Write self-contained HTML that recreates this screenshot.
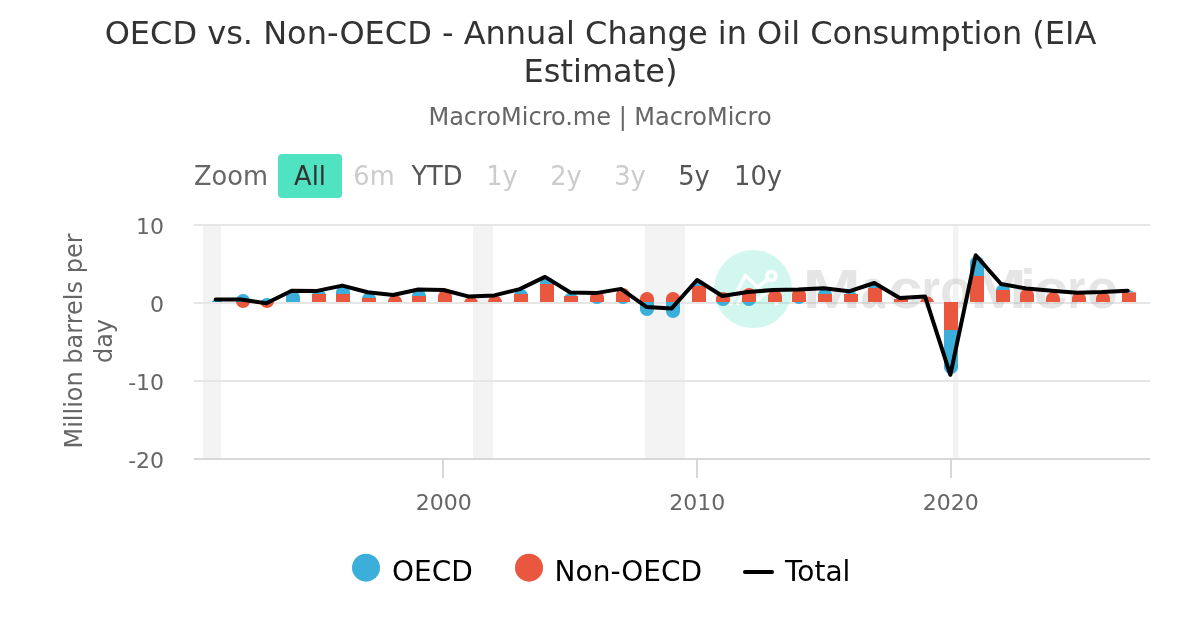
<!DOCTYPE html>
<html lang="en">
<head>
<meta charset="utf-8">
<title>OECD vs. Non-OECD - Annual Change in Oil Consumption (EIA Estimate)</title>
<style>
html,body{margin:0;padding:0;background:#fff;}
body{width:1200px;height:630px;overflow:hidden;}
</style>
</head>
<body>
<svg width="1200" height="630" viewBox="0 0 1200 630" style="display:block;will-change:transform;font-family:'DejaVu Sans', Verdana, 'Liberation Sans', sans-serif">
<rect width="1200" height="630" fill="#fff"/>
<rect x="203" y="225" width="18" height="234" fill="#f3f3f3"/>
<rect x="473" y="225" width="20" height="234" fill="#f3f3f3"/>
<rect x="645" y="225" width="40" height="234" fill="#f3f3f3"/>
<rect x="953" y="225" width="5.5" height="234" fill="#f3f3f3"/>
<rect x="194" y="224" width="956" height="2" fill="#e6e6e6"/>
<rect x="194" y="302" width="956" height="2" fill="#e6e6e6"/>
<rect x="194" y="380" width="956" height="2" fill="#e6e6e6"/>
<rect x="194" y="458" width="956" height="2" fill="#d8d8d8"/>
<rect x="442" y="460" width="2" height="18" fill="#d8d8d8"/>
<rect x="696" y="460" width="2" height="18" fill="#d8d8d8"/>
<rect x="950" y="460" width="2" height="18" fill="#d8d8d8"/>
<g opacity="0.25">
<circle cx="753.05" cy="289.05" r="39.05" fill="#50e3c2"/>
<g fill="none" stroke="#fff" stroke-width="3.4" stroke-linejoin="round" stroke-linecap="butt">
<path d="M730.2 305L745.4 275.4L757.5 287.3L768.2 278.8"/>
<path d="M737 305L745.4 289.6L757.5 299.4L770 290.4L777.4 305"/>
<circle cx="771.4" cy="276" r="4.4" stroke-width="3.6"/>
</g>
<g font-family="'Liberation Sans', Arial, sans-serif" font-weight="700" font-size="56" fill="#9b9b9b">
<text transform="translate(802.6 308.2) scale(1.252 1)">M</text>
<text transform="translate(860.63 308.2) scale(0.781 1)">a</text>
<text transform="translate(888.63 308.2) scale(1.083 1)">c</text>
<text transform="translate(921.47 308.2) scale(0.846 1)">r</text>
<text transform="translate(939.95 308.2) scale(0.938 1)">o</text>
<text transform="translate(970.15 308.2) scale(1.213 1)">M</text>
<text transform="translate(1020.32 308.2) scale(0.991 1)">i</text>
<text transform="translate(1033.5 308.2) scale(1.098 1)">c</text>
<text transform="translate(1067.26 308.2) scale(0.823 1)">r</text>
<text transform="translate(1087.02 308.2) scale(0.905 1)">o</text>
</g>
</g>
<g>
<path fill="#3bafda" d="M211.48 302L211.63 301.81L211.8 301.61L211.98 301.42L212.18 301.23L212.39 301.04L212.62 300.84L212.87 300.65L213.15 300.46L213.45 300.26L213.81 300.07L214.21 299.88L214.71 299.69L215.37 299.49L217 299.3L217 299.3L218.63 299.49L219.29 299.69L219.79 299.88L220.19 300.07L220.55 300.26L220.85 300.46L221.13 300.65L221.38 300.84L221.61 301.04L221.82 301.23L222.02 301.42L222.2 301.61L222.37 301.81L222.52 302Z"/>
<path fill="#3bafda" d="M236 302L236 301.43L236 301L236 300.86L236.02 300.42L236.04 300.29L236.1 299.83L236.12 299.71L236.22 299.25L236.25 299.14L236.4 298.67L236.43 298.57L236.64 298.08L236.68 298L236.94 297.5L236.98 297.43L237.31 296.92L237.36 296.86L237.78 296.33L237.83 296.29L238.37 295.75L238.41 295.71L239.13 295.17L239.17 295.14L240.2 294.58L240.23 294.57L243 294L243 294L245.77 294.57L245.8 294.58L246.83 295.14L246.87 295.17L247.59 295.71L247.63 295.75L248.17 296.29L248.22 296.33L248.64 296.86L248.69 296.92L249.02 297.43L249.06 297.5L249.32 298L249.36 298.08L249.57 298.57L249.6 298.67L249.75 299.14L249.78 299.25L249.88 299.71L249.9 299.83L249.96 300.29L249.98 300.42L250 300.86L250 301L250 301.43L250 302Z"/>
<path fill="#e9573f" d="M236.07 302L236.15 302.43L236.25 302.86L236.38 303.29L236.55 303.71L236.75 304.14L236.98 304.57L237.26 305L237.58 305.43L237.96 305.86L238.41 306.29L238.96 306.71L239.64 307.14L240.59 307.57L243 308L243 308L245.41 307.57L246.36 307.14L247.04 306.71L247.59 306.29L248.04 305.86L248.42 305.43L248.74 305L249.02 304.57L249.25 304.14L249.45 303.71L249.62 303.29L249.75 302.86L249.85 302.43L249.93 302Z"/>
<path fill="#3bafda" d="M260.68 302L260.82 301.71L260.98 301.43L261.16 301.14L261.36 300.86L261.58 300.57L261.83 300.29L262.1 300L262.41 299.71L262.76 299.43L263.17 299.14L263.64 298.86L264.23 298.57L265.02 298.29L267 298L267 298L268.98 298.29L269.77 298.57L270.36 298.86L270.83 299.14L271.24 299.43L271.59 299.71L271.9 300L272.17 300.29L272.42 300.57L272.64 300.86L272.84 301.14L273.02 301.43L273.18 301.71L273.32 302Z"/>
<path fill="#e9573f" d="M260.07 302L260.15 302.43L260.25 302.86L260.38 303.29L260.55 303.71L260.75 304.14L260.98 304.57L261.26 305L261.58 305.43L261.96 305.86L262.41 306.29L262.96 306.71L263.64 307.14L264.59 307.57L267 308L267 308L269.41 307.57L270.36 307.14L271.04 306.71L271.59 306.29L272.04 305.86L272.42 305.43L272.74 305L273.02 304.57L273.25 304.14L273.45 303.71L273.62 303.29L273.75 302.86L273.85 302.43L273.93 302Z"/>
<path fill="#3bafda" d="M286 302L286 301.2L286 300.39L286 299.59L286 298.79L286 297.98L286 297.75L286.02 297.18L286.02 297.17L286.1 296.58L286.14 296.38L286.22 296L286.35 295.57L286.4 295.42L286.64 294.83L286.67 294.77L286.94 294.25L287.11 293.96L287.31 293.67L287.71 293.16L287.78 293.08L288.37 292.5L288.54 292.36L289.13 291.92L289.74 291.55L290.2 291.33L293 290.75L293 290.75L295.8 291.33L296.26 291.55L296.87 291.92L297.46 292.36L297.63 292.5L298.22 293.08L298.29 293.16L298.69 293.67L298.89 293.96L299.06 294.25L299.33 294.77L299.36 294.83L299.6 295.42L299.65 295.57L299.78 296L299.86 296.38L299.9 296.58L299.98 297.17L299.98 297.18L300 297.75L300 297.98L300 298.79L300 299.59L300 300.39L300 301.2L300 302Z"/>
<rect fill="#e9573f" x="312" y="294" width="14" height="8"/>
<path fill="#3bafda" d="M312.35 294L312.48 293.66L312.62 293.31L312.79 292.97L312.98 292.63L313.2 292.29L313.44 291.94L313.72 291.6L314.04 291.26L314.41 290.91L314.84 290.57L315.35 290.23L315.98 289.89L316.84 289.54L319 289.2L319 289.2L321.16 289.54L322.02 289.89L322.65 290.23L323.16 290.57L323.59 290.91L323.96 291.26L324.28 291.6L324.56 291.94L324.8 292.29L325.02 292.63L325.21 292.97L325.38 293.31L325.52 293.66L325.65 294Z"/>
<rect fill="#e9573f" x="336" y="294" width="14" height="8"/>
<path fill="#3bafda" d="M336 294L336 293.4L336 292.8L336 292.6L336.01 292.2L336.02 292.02L336.07 291.6L336.1 291.43L336.19 291L336.22 290.85L336.35 290.4L336.4 290.27L336.58 289.8L336.64 289.68L336.88 289.2L336.94 289.1L337.26 288.6L337.31 288.52L337.72 288L337.78 287.93L338.31 287.4L338.37 287.35L339.08 286.8L339.13 286.77L340.16 286.2L340.2 286.18L343 285.6L343 285.6L345.8 286.18L345.84 286.2L346.87 286.77L346.92 286.8L347.63 287.35L347.69 287.4L348.22 287.93L348.28 288L348.69 288.52L348.74 288.6L349.06 289.1L349.12 289.2L349.36 289.68L349.42 289.8L349.6 290.27L349.65 290.4L349.78 290.85L349.81 291L349.9 291.43L349.93 291.6L349.98 292.02L349.99 292.2L350 292.6L350 292.8L350 293.4L350 294Z"/>
<rect fill="#e9573f" x="362" y="298" width="14" height="4"/>
<path fill="#3bafda" d="M362.12 298L362.21 297.59L362.33 297.19L362.47 296.78L362.64 296.37L362.85 295.96L363.08 295.56L363.36 295.15L363.69 294.74L364.06 294.34L364.51 293.93L365.05 293.52L365.72 293.11L366.65 292.71L369 292.3L369 292.3L371.35 292.71L372.28 293.11L372.95 293.52L373.49 293.93L373.94 294.34L374.31 294.74L374.64 295.15L374.92 295.56L375.15 295.96L375.36 296.37L375.53 296.78L375.67 297.19L375.79 297.59L375.88 298Z"/>
<path fill="#e9573f" d="M388 302L388.02 301.5L388.07 301L388.16 300.5L388.29 300L388.46 299.5L388.68 299L388.94 298.5L389.26 298L389.64 297.5L390.1 297L390.67 296.5L391.39 296L392.4 295.5L395 295L395 295L397.6 295.5L398.61 296L399.33 296.5L399.9 297L400.36 297.5L400.74 298L401.06 298.5L401.32 299L401.54 299.5L401.71 300L401.84 300.5L401.93 301L401.98 301.5L402 302Z"/>
<rect fill="#e9573f" x="412" y="296" width="14" height="6"/>
<path fill="#3bafda" d="M412.02 296L412.07 295.54L412.15 295.07L412.26 294.61L412.41 294.14L412.59 293.68L412.82 293.21L413.09 292.75L413.41 292.29L413.79 291.82L414.25 291.36L414.81 290.89L415.52 290.43L416.49 289.96L419 289.5L419 289.5L421.51 289.96L422.48 290.43L423.19 290.89L423.75 291.36L424.21 291.82L424.59 292.29L424.91 292.75L425.18 293.21L425.41 293.68L425.59 294.14L425.74 294.61L425.85 295.07L425.93 295.54L425.98 296Z"/>
<path fill="#e9573f" d="M438 302L438 301.14L438 300.29L438 299.43L438 298.57L438 297.71L438 297L438 296.86L438.02 296.42L438.07 296L438.1 295.83L438.22 295.25L438.25 295.14L438.4 294.67L438.55 294.29L438.64 294.08L438.94 293.5L438.98 293.43L439.31 292.92L439.58 292.57L439.78 292.33L440.37 291.75L440.41 291.71L441.13 291.17L441.64 290.86L442.2 290.58L445 290L445 290L447.8 290.58L448.36 290.86L448.87 291.17L449.59 291.71L449.63 291.75L450.22 292.33L450.42 292.57L450.69 292.92L451.02 293.43L451.06 293.5L451.36 294.08L451.45 294.29L451.6 294.67L451.75 295.14L451.78 295.25L451.9 295.83L451.93 296L451.98 296.42L452 296.86L452 297L452 297.71L452 298.57L452 299.43L452 300.29L452 301.14L452 302Z"/>
<path fill="#e9573f" d="M464.19 302L464.29 301.61L464.41 301.23L464.57 300.84L464.75 300.46L464.95 300.07L465.2 299.69L465.48 299.3L465.8 298.91L466.18 298.53L466.62 298.14L467.15 297.76L467.81 297.37L468.71 296.99L471 296.6L471 296.6L473.29 296.99L474.19 297.37L474.85 297.76L475.38 298.14L475.82 298.53L476.2 298.91L476.52 299.3L476.8 299.69L477.05 300.07L477.25 300.46L477.43 300.84L477.59 301.23L477.71 301.61L477.81 302Z"/>
<path fill="#e9573f" d="M488.01 302L488.05 301.53L488.13 301.06L488.24 300.59L488.38 300.11L488.57 299.64L488.79 299.17L489.06 298.7L489.38 298.23L489.76 297.76L490.22 297.29L490.78 296.81L491.49 296.34L492.47 295.87L495 295.4L495 295.4L497.53 295.87L498.51 296.34L499.22 296.81L499.78 297.29L500.24 297.76L500.62 298.23L500.94 298.7L501.21 299.17L501.43 299.64L501.62 300.11L501.76 300.59L501.87 301.06L501.95 301.53L501.99 302Z"/>
<rect fill="#e9573f" x="514" y="294" width="14" height="8"/>
<path fill="#3bafda" d="M514.32 294L514.44 293.65L514.58 293.3L514.75 292.95L514.94 292.6L515.15 292.25L515.4 291.9L515.68 291.55L516 291.2L516.37 290.85L516.8 290.5L517.31 290.15L517.95 289.8L518.81 289.45L521 289.1L521 289.1L523.19 289.45L524.05 289.8L524.69 290.15L525.2 290.5L525.63 290.85L526 291.2L526.32 291.55L526.6 291.9L526.85 292.25L527.06 292.6L527.25 292.95L527.42 293.3L527.56 293.65L527.68 294Z"/>
<rect fill="#e9573f" x="540" y="284" width="14" height="18"/>
<path fill="#3bafda" d="M540 284L540 283.9L540.01 283.49L540.02 283.32L540.06 282.99L540.1 282.73L540.15 282.48L540.22 282.15L540.27 281.97L540.4 281.57L540.44 281.46L540.64 280.98L540.65 280.96L540.91 280.45L540.94 280.4L541.23 279.94L541.31 279.82L541.61 279.44L541.78 279.23L542.07 278.93L542.37 278.65L542.64 278.42L543.13 278.07L543.37 277.91L544.2 277.48L544.38 277.41L547 276.9L547 276.9L549.62 277.41L549.8 277.48L550.63 277.91L550.87 278.07L551.36 278.42L551.63 278.65L551.93 278.93L552.22 279.23L552.39 279.44L552.69 279.82L552.77 279.94L553.06 280.4L553.09 280.45L553.35 280.96L553.36 280.98L553.56 281.46L553.6 281.57L553.73 281.97L553.78 282.15L553.85 282.48L553.9 282.73L553.94 282.99L553.98 283.32L553.99 283.49L554 283.9L554 284Z"/>
<rect fill="#e9573f" x="564" y="296" width="14" height="6"/>
<path fill="#3bafda" d="M564.94 296L565.09 295.75L565.26 295.5L565.44 295.25L565.64 295L565.86 294.75L566.1 294.5L566.37 294.25L566.67 294L567.01 293.75L567.39 293.5L567.85 293.25L568.4 293L569.15 292.75L571 292.5L571 292.5L572.85 292.75L573.6 293L574.15 293.25L574.61 293.5L574.99 293.75L575.33 294L575.63 294.25L575.9 294.5L576.14 294.75L576.36 295L576.56 295.25L576.74 295.5L576.91 295.75L577.06 296Z"/>
<path fill="#e9573f" d="M590 302L590 301.21L590 300.43L590 299.64L590 298.86L590 298.07L590 298L590.02 297.42L590.04 297.29L590.1 296.83L590.16 296.5L590.22 296.25L590.38 295.71L590.4 295.67L590.64 295.08L590.71 294.93L590.94 294.5L591.16 294.14L591.31 293.92L591.76 293.36L591.78 293.33L592.37 292.75L592.58 292.57L593.13 292.17L593.78 291.79L594.2 291.58L597 291L597 291L599.8 291.58L600.22 291.79L600.87 292.17L601.42 292.57L601.63 292.75L602.22 293.33L602.24 293.36L602.69 293.92L602.84 294.14L603.06 294.5L603.29 294.93L603.36 295.08L603.6 295.67L603.62 295.71L603.78 296.25L603.84 296.5L603.9 296.83L603.96 297.29L603.98 297.42L604 298L604 298.07L604 298.86L604 299.64L604 300.43L604 301.21L604 302Z"/>
<path fill="#3bafda" d="M592.1 302L592.25 302.14L592.41 302.29L592.58 302.43L592.76 302.57L592.96 302.71L593.17 302.86L593.39 303L593.64 303.14L593.92 303.29L594.23 303.43L594.59 303.57L595.02 303.71L595.59 303.86L597 304L597 304L598.41 303.86L598.98 303.71L599.41 303.57L599.77 303.43L600.08 303.29L600.36 303.14L600.61 303L600.83 302.86L601.04 302.71L601.24 302.57L601.42 302.43L601.59 302.29L601.75 302.14L601.9 302Z"/>
<path fill="#e9573f" d="M616 302L616 301L616 300L616 299L616 298L616 297L616 296L616 295L616.02 294.42L616.07 294L616.1 293.83L616.22 293.25L616.29 293L616.4 292.67L616.64 292.08L616.68 292L616.94 291.5L617.26 291L617.31 290.92L617.78 290.33L618.1 290L618.37 289.75L619.13 289.17L619.39 289L620.2 288.58L623 288L623 288L625.8 288.58L626.61 289L626.87 289.17L627.63 289.75L627.9 290L628.22 290.33L628.69 290.92L628.74 291L629.06 291.5L629.32 292L629.36 292.08L629.6 292.67L629.71 293L629.78 293.25L629.9 293.83L629.93 294L629.98 294.42L630 295L630 296L630 297L630 298L630 299L630 300L630 301L630 302Z"/>
<path fill="#3bafda" d="M618.1 302L618.25 302.14L618.41 302.29L618.58 302.43L618.76 302.57L618.96 302.71L619.17 302.86L619.39 303L619.64 303.14L619.92 303.29L620.23 303.43L620.59 303.57L621.02 303.71L621.59 303.86L623 304L623 304L624.41 303.86L624.98 303.71L625.41 303.57L625.77 303.43L626.08 303.29L626.36 303.14L626.61 303L626.83 302.86L627.04 302.71L627.24 302.57L627.42 302.43L627.59 302.29L627.75 302.14L627.9 302Z"/>
<path fill="#e9573f" d="M640 302L640 301.29L640 300.57L640 299.86L640 299.14L640 299L640.02 298.43L640.02 298.42L640.1 297.83L640.12 297.71L640.22 297.25L640.29 297L640.4 296.67L640.55 296.29L640.64 296.08L640.9 295.57L640.94 295.5L641.31 294.92L641.36 294.86L641.78 294.33L641.96 294.14L642.37 293.75L642.76 293.43L643.13 293.17L643.92 292.71L644.2 292.58L647 292L647 292L649.8 292.58L650.08 292.71L650.87 293.17L651.24 293.43L651.63 293.75L652.04 294.14L652.22 294.33L652.64 294.86L652.69 294.92L653.06 295.5L653.1 295.57L653.36 296.08L653.45 296.29L653.6 296.67L653.71 297L653.78 297.25L653.88 297.71L653.9 297.83L653.98 298.42L653.98 298.43L654 299L654 299.14L654 299.86L654 300.57L654 301.29L654 302Z"/>
<path fill="#3bafda" d="M640 302L640 303L640 304L640 305L640 306L640 307L640 308L640 309L640.02 309.58L640.07 310L640.1 310.17L640.22 310.75L640.29 311L640.4 311.33L640.64 311.92L640.68 312L640.94 312.5L641.26 313L641.31 313.08L641.78 313.67L642.1 314L642.37 314.25L643.13 314.83L643.39 315L644.2 315.42L647 316L647 316L649.8 315.42L650.61 315L650.87 314.83L651.63 314.25L651.9 314L652.22 313.67L652.69 313.08L652.74 313L653.06 312.5L653.32 312L653.36 311.92L653.6 311.33L653.71 311L653.78 310.75L653.9 310.17L653.93 310L653.98 309.58L654 309L654 308L654 307L654 306L654 305L654 304L654 303L654 302Z"/>
<path fill="#e9573f" d="M666 302L666 301.29L666 300.57L666 299.86L666 299.14L666 299L666.02 298.43L666.02 298.42L666.1 297.83L666.12 297.71L666.22 297.25L666.29 297L666.4 296.67L666.55 296.29L666.64 296.08L666.9 295.57L666.94 295.5L667.31 294.92L667.36 294.86L667.78 294.33L667.96 294.14L668.37 293.75L668.76 293.43L669.13 293.17L669.92 292.71L670.2 292.58L673 292L673 292L675.8 292.58L676.08 292.71L676.87 293.17L677.24 293.43L677.63 293.75L678.04 294.14L678.22 294.33L678.64 294.86L678.69 294.92L679.06 295.5L679.1 295.57L679.36 296.08L679.45 296.29L679.6 296.67L679.71 297L679.78 297.25L679.88 297.71L679.9 297.83L679.98 298.42L679.98 298.43L680 299L680 299.14L680 299.86L680 300.57L680 301.29L680 302Z"/>
<path fill="#3bafda" d="M666 302L666 303.14L666 304.29L666 305.43L666 306.57L666 307.71L666 308.86L666 310L666 311L666 311.14L666.02 311.58L666.1 312.17L666.12 312.29L666.22 312.75L666.4 313.33L666.43 313.43L666.64 313.92L666.94 314.5L666.98 314.57L667.31 315.08L667.78 315.67L667.83 315.71L668.37 316.25L669.13 316.83L669.17 316.86L670.2 317.42L673 318L673 318L675.8 317.42L676.83 316.86L676.87 316.83L677.63 316.25L678.17 315.71L678.22 315.67L678.69 315.08L679.02 314.57L679.06 314.5L679.36 313.92L679.57 313.43L679.6 313.33L679.78 312.75L679.88 312.29L679.9 312.17L679.98 311.58L680 311.14L680 311L680 310L680 308.86L680 307.71L680 306.57L680 305.43L680 304.29L680 303.14L680 302Z"/>
<rect fill="#e9573f" x="692" y="286" width="14" height="16"/>
<path fill="#3bafda" d="M692.07 286L692.15 285.57L692.25 285.14L692.38 284.71L692.55 284.29L692.75 283.86L692.98 283.43L693.26 283L693.58 282.57L693.96 282.14L694.41 281.71L694.96 281.29L695.64 280.86L696.59 280.43L699 280L699 280L701.41 280.43L702.36 280.86L703.04 281.29L703.59 281.71L704.04 282.14L704.42 282.57L704.74 283L705.02 283.43L705.25 283.86L705.45 284.29L705.62 284.71L705.75 285.14L705.85 285.57L705.93 286Z"/>
<path fill="#e9573f" d="M716 302L716 301.29L716 300.57L716 299.86L716 299.14L716 299L716.02 298.43L716.02 298.42L716.1 297.83L716.12 297.71L716.22 297.25L716.29 297L716.4 296.67L716.55 296.29L716.64 296.08L716.9 295.57L716.94 295.5L717.31 294.92L717.36 294.86L717.78 294.33L717.96 294.14L718.37 293.75L718.76 293.43L719.13 293.17L719.92 292.71L720.2 292.58L723 292L723 292L725.8 292.58L726.08 292.71L726.87 293.17L727.24 293.43L727.63 293.75L728.04 294.14L728.22 294.33L728.64 294.86L728.69 294.92L729.06 295.5L729.1 295.57L729.36 296.08L729.45 296.29L729.6 296.67L729.71 297L729.78 297.25L729.88 297.71L729.9 297.83L729.98 298.42L729.98 298.43L730 299L730 299.14L730 299.86L730 300.57L730 301.29L730 302Z"/>
<path fill="#3bafda" d="M716.68 302L716.82 302.29L716.98 302.57L717.16 302.86L717.36 303.14L717.58 303.43L717.83 303.71L718.1 304L718.41 304.29L718.76 304.57L719.17 304.86L719.64 305.14L720.23 305.43L721.02 305.71L723 306L723 306L724.98 305.71L725.77 305.43L726.36 305.14L726.83 304.86L727.24 304.57L727.59 304.29L727.9 304L728.17 303.71L728.42 303.43L728.64 303.14L728.84 302.86L729.02 302.57L729.18 302.29L729.32 302Z"/>
<path fill="#e9573f" d="M742 302L742 301L742 300L742 299L742 298L742 297L742 296L742 295L742.02 294.42L742.07 294L742.1 293.83L742.22 293.25L742.29 293L742.4 292.67L742.64 292.08L742.68 292L742.94 291.5L743.26 291L743.31 290.92L743.78 290.33L744.1 290L744.37 289.75L745.13 289.17L745.39 289L746.2 288.58L749 288L749 288L751.8 288.58L752.61 289L752.87 289.17L753.63 289.75L753.9 290L754.22 290.33L754.69 290.92L754.74 291L755.06 291.5L755.32 292L755.36 292.08L755.6 292.67L755.71 293L755.78 293.25L755.9 293.83L755.93 294L755.98 294.42L756 295L756 296L756 297L756 298L756 299L756 300L756 301L756 302Z"/>
<path fill="#3bafda" d="M742.68 302L742.82 302.29L742.98 302.57L743.16 302.86L743.36 303.14L743.58 303.43L743.83 303.71L744.1 304L744.41 304.29L744.76 304.57L745.17 304.86L745.64 305.14L746.23 305.43L747.02 305.71L749 306L749 306L750.98 305.71L751.77 305.43L752.36 305.14L752.83 304.86L753.24 304.57L753.59 304.29L753.9 304L754.17 303.71L754.42 303.43L754.64 303.14L754.84 302.86L755.02 302.57L755.18 302.29L755.32 302Z"/>
<path fill="#e9573f" d="M768 302L768 301.14L768 300.29L768 299.43L768 298.57L768 297.71L768 297L768 296.86L768.02 296.42L768.07 296L768.1 295.83L768.22 295.25L768.25 295.14L768.4 294.67L768.55 294.29L768.64 294.08L768.94 293.5L768.98 293.43L769.31 292.92L769.58 292.57L769.78 292.33L770.37 291.75L770.41 291.71L771.13 291.17L771.64 290.86L772.2 290.58L775 290L775 290L777.8 290.58L778.36 290.86L778.87 291.17L779.59 291.71L779.63 291.75L780.22 292.33L780.42 292.57L780.69 292.92L781.02 293.43L781.06 293.5L781.36 294.08L781.45 294.29L781.6 294.67L781.75 295.14L781.78 295.25L781.9 295.83L781.93 296L781.98 296.42L782 296.86L782 297L782 297.71L782 298.57L782 299.43L782 300.29L782 301.14L782 302Z"/>
<path fill="#e9573f" d="M792 302L792 301L792 300L792 299L792 298L792 297L792 296L792 295L792.02 294.42L792.07 294L792.1 293.83L792.22 293.25L792.29 293L792.4 292.67L792.64 292.08L792.68 292L792.94 291.5L793.26 291L793.31 290.92L793.78 290.33L794.1 290L794.37 289.75L795.13 289.17L795.39 289L796.2 288.58L799 288L799 288L801.8 288.58L802.61 289L802.87 289.17L803.63 289.75L803.9 290L804.22 290.33L804.69 290.92L804.74 291L805.06 291.5L805.32 292L805.36 292.08L805.6 292.67L805.71 293L805.78 293.25L805.9 293.83L805.93 294L805.98 294.42L806 295L806 296L806 297L806 298L806 299L806 300L806 301L806 302Z"/>
<path fill="#3bafda" d="M794.1 302L794.25 302.14L794.41 302.29L794.58 302.43L794.76 302.57L794.96 302.71L795.17 302.86L795.39 303L795.64 303.14L795.92 303.29L796.23 303.43L796.59 303.57L797.02 303.71L797.59 303.86L799 304L799 304L800.41 303.86L800.98 303.71L801.41 303.57L801.77 303.43L802.08 303.29L802.36 303.14L802.61 303L802.83 302.86L803.04 302.71L803.24 302.57L803.42 302.43L803.59 302.29L803.75 302.14L803.9 302Z"/>
<rect fill="#e9573f" x="818" y="294" width="14" height="8"/>
<path fill="#3bafda" d="M818.1 294L818.19 293.59L818.3 293.17L818.44 292.76L818.61 292.34L818.81 291.93L819.05 291.51L819.33 291.1L819.65 290.69L820.03 290.27L820.48 289.86L821.02 289.44L821.7 289.03L822.63 288.61L825 288.2L825 288.2L827.37 288.61L828.3 289.03L828.98 289.44L829.52 289.86L829.97 290.27L830.35 290.69L830.67 291.1L830.95 291.51L831.19 291.93L831.39 292.34L831.56 292.76L831.7 293.17L831.81 293.59L831.9 294Z"/>
<rect fill="#e9573f" x="844" y="294" width="14" height="8"/>
<path fill="#3bafda" d="M845.48 294L845.63 293.81L845.8 293.61L845.98 293.42L846.18 293.23L846.39 293.04L846.62 292.84L846.87 292.65L847.15 292.46L847.45 292.26L847.81 292.07L848.21 291.88L848.71 291.69L849.37 291.49L851 291.3L851 291.3L852.63 291.49L853.29 291.69L853.79 291.88L854.19 292.07L854.55 292.26L854.85 292.46L855.13 292.65L855.38 292.84L855.61 293.04L855.82 293.23L856.02 293.42L856.2 293.61L856.37 293.81L856.52 294Z"/>
<rect fill="#e9573f" x="868" y="288" width="14" height="14"/>
<path fill="#3bafda" d="M868.29 288L868.41 287.64L868.55 287.29L868.71 286.93L868.9 286.57L869.11 286.21L869.36 285.86L869.64 285.5L869.96 285.14L870.33 284.79L870.76 284.43L871.28 284.07L871.92 283.71L872.79 283.36L875 283L875 283L877.21 283.36L878.08 283.71L878.72 284.07L879.24 284.43L879.67 284.79L880.04 285.14L880.36 285.5L880.64 285.86L880.89 286.21L881.1 286.57L881.29 286.93L881.45 287.29L881.59 287.64L881.71 288Z"/>
<rect fill="#e9573f" x="894" y="299" width="14" height="3"/>
<path fill="#3bafda" d="M897.39 299L897.52 298.93L897.64 298.86L897.78 298.79L897.92 298.71L898.07 298.64L898.23 298.57L898.4 298.5L898.59 298.43L898.79 298.36L899.02 298.29L899.28 298.21L899.59 298.14L900 298.07L901 298L901 298L902 298.07L902.41 298.14L902.72 298.21L902.98 298.29L903.21 298.36L903.41 298.43L903.6 298.5L903.77 298.57L903.93 298.64L904.08 298.71L904.22 298.79L904.36 298.86L904.48 298.93L904.61 299Z"/>
<path fill="#e9573f" d="M920.14 302L920.24 301.6L920.35 301.2L920.5 300.8L920.68 300.4L920.88 300L921.12 299.6L921.4 299.2L921.72 298.8L922.1 298.4L922.55 298L923.08 297.6L923.75 297.2L924.67 296.8L927 296.4L927 296.4L929.33 296.8L930.25 297.2L930.92 297.6L931.45 298L931.9 298.4L932.28 298.8L932.6 299.2L932.88 299.6L933.12 300L933.32 300.4L933.5 300.8L933.65 301.2L933.76 301.6L933.86 302Z"/>
<rect fill="#e9573f" x="944" y="302" width="14" height="28"/>
<path fill="#3bafda" d="M944 330L944 333.14L944 336.29L944 339.43L944 342.57L944 345.71L944 348.86L944 352L944 355.14L944 358.29L944 361.43L944 364.57L944 367L944.02 367.58L944.04 367.71L944.1 368.17L944.22 368.75L944.4 369.33L944.64 369.92L944.94 370.5L945.16 370.86L945.31 371.08L945.78 371.67L946.37 372.25L947.13 372.83L948.2 373.42L951 374L951 374L953.8 373.42L954.87 372.83L955.63 372.25L956.22 371.67L956.69 371.08L956.84 370.86L957.06 370.5L957.36 369.92L957.6 369.33L957.78 368.75L957.9 368.17L957.96 367.71L957.98 367.58L958 367L958 364.57L958 361.43L958 358.29L958 355.14L958 352L958 348.86L958 345.71L958 342.57L958 339.43L958 336.29L958 333.14L958 330Z"/>
<rect fill="#e9573f" x="970" y="276" width="14" height="26"/>
<path fill="#3bafda" d="M970 276L970 274.57L970 273.14L970 271.71L970 270.29L970 268.86L970 267.43L970 266L970 264.57L970 263.14L970 263L970.02 262.42L970.1 261.83L970.12 261.71L970.22 261.25L970.4 260.67L970.55 260.29L970.64 260.08L970.94 259.5L971.31 258.92L971.36 258.86L971.78 258.33L972.37 257.75L972.76 257.43L973.13 257.17L974.2 256.58L977 256L977 256L979.8 256.58L980.87 257.17L981.24 257.43L981.63 257.75L982.22 258.33L982.64 258.86L982.69 258.92L983.06 259.5L983.36 260.08L983.45 260.29L983.6 260.67L983.78 261.25L983.88 261.71L983.9 261.83L983.98 262.42L984 263L984 263.14L984 264.57L984 266L984 267.43L984 268.86L984 270.29L984 271.71L984 273.14L984 274.57L984 276Z"/>
<rect fill="#e9573f" x="996" y="290" width="14" height="12"/>
<path fill="#3bafda" d="M996.07 290L996.15 289.57L996.25 289.14L996.38 288.71L996.55 288.29L996.75 287.86L996.98 287.43L997.26 287L997.58 286.57L997.96 286.14L998.41 285.71L998.96 285.29L999.64 284.86L1000.59 284.43L1003 284L1003 284L1005.41 284.43L1006.36 284.86L1007.04 285.29L1007.59 285.71L1008.04 286.14L1008.42 286.57L1008.74 287L1009.02 287.43L1009.25 287.86L1009.45 288.29L1009.62 288.71L1009.75 289.14L1009.85 289.57L1009.93 290Z"/>
<path fill="#e9573f" d="M1020 302L1020 301.04L1020 300.07L1020 299.11L1020 298.14L1020 297.18L1020 296.21L1020 295.5L1020 295.25L1020.02 294.92L1020.1 294.33L1020.11 294.29L1020.22 293.75L1020.35 293.32L1020.4 293.17L1020.64 292.58L1020.75 292.36L1020.94 292L1021.31 291.42L1021.33 291.39L1021.78 290.83L1022.18 290.43L1022.37 290.25L1023.13 289.67L1023.45 289.46L1024.2 289.08L1027 288.5L1027 288.5L1029.8 289.08L1030.55 289.46L1030.87 289.67L1031.63 290.25L1031.82 290.43L1032.22 290.83L1032.67 291.39L1032.69 291.42L1033.06 292L1033.25 292.36L1033.36 292.58L1033.6 293.17L1033.65 293.32L1033.78 293.75L1033.89 294.29L1033.9 294.33L1033.98 294.92L1034 295.25L1034 295.5L1034 296.21L1034 297.18L1034 298.14L1034 299.11L1034 300.07L1034 301.04L1034 302Z"/>
<path fill="#e9573f" d="M1046 302L1046 301.29L1046 300.57L1046 299.86L1046 299.14L1046 299L1046.02 298.43L1046.02 298.42L1046.1 297.83L1046.12 297.71L1046.22 297.25L1046.29 297L1046.4 296.67L1046.55 296.29L1046.64 296.08L1046.9 295.57L1046.94 295.5L1047.31 294.92L1047.36 294.86L1047.78 294.33L1047.96 294.14L1048.37 293.75L1048.76 293.43L1049.13 293.17L1049.92 292.71L1050.2 292.58L1053 292L1053 292L1055.8 292.58L1056.08 292.71L1056.87 293.17L1057.24 293.43L1057.63 293.75L1058.04 294.14L1058.22 294.33L1058.64 294.86L1058.69 294.92L1059.06 295.5L1059.1 295.57L1059.36 296.08L1059.45 296.29L1059.6 296.67L1059.71 297L1059.78 297.25L1059.88 297.71L1059.9 297.83L1059.98 298.42L1059.98 298.43L1060 299L1060 299.14L1060 299.86L1060 300.57L1060 301.29L1060 302Z"/>
<path fill="#e9573f" d="M1072 302L1072 301.29L1072 300.57L1072 299.86L1072 299.14L1072 299L1072.02 298.43L1072.02 298.42L1072.1 297.83L1072.12 297.71L1072.22 297.25L1072.29 297L1072.4 296.67L1072.55 296.29L1072.64 296.08L1072.9 295.57L1072.94 295.5L1073.31 294.92L1073.36 294.86L1073.78 294.33L1073.96 294.14L1074.37 293.75L1074.76 293.43L1075.13 293.17L1075.92 292.71L1076.2 292.58L1079 292L1079 292L1081.8 292.58L1082.08 292.71L1082.87 293.17L1083.24 293.43L1083.63 293.75L1084.04 294.14L1084.22 294.33L1084.64 294.86L1084.69 294.92L1085.06 295.5L1085.1 295.57L1085.36 296.08L1085.45 296.29L1085.6 296.67L1085.71 297L1085.78 297.25L1085.88 297.71L1085.9 297.83L1085.98 298.42L1085.98 298.43L1086 299L1086 299.14L1086 299.86L1086 300.57L1086 301.29L1086 302Z"/>
<path fill="#e9573f" d="M1096 302L1096 301.29L1096 300.57L1096 299.86L1096 299.14L1096 299L1096.02 298.43L1096.02 298.42L1096.1 297.83L1096.12 297.71L1096.22 297.25L1096.29 297L1096.4 296.67L1096.55 296.29L1096.64 296.08L1096.9 295.57L1096.94 295.5L1097.31 294.92L1097.36 294.86L1097.78 294.33L1097.96 294.14L1098.37 293.75L1098.76 293.43L1099.13 293.17L1099.92 292.71L1100.2 292.58L1103 292L1103 292L1105.8 292.58L1106.08 292.71L1106.87 293.17L1107.24 293.43L1107.63 293.75L1108.04 294.14L1108.22 294.33L1108.64 294.86L1108.69 294.92L1109.06 295.5L1109.1 295.57L1109.36 296.08L1109.45 296.29L1109.6 296.67L1109.71 297L1109.78 297.25L1109.88 297.71L1109.9 297.83L1109.98 298.42L1109.98 298.43L1110 299L1110 299.14L1110 299.86L1110 300.57L1110 301.29L1110 302Z"/>
<rect fill="#e9573f" x="1122" y="292.3" width="14" height="9.7"/>
<path fill="#3bafda" d="M1124.1 292.3L1124.25 292.16L1124.41 292.01L1124.58 291.87L1124.76 291.73L1124.96 291.59L1125.17 291.44L1125.39 291.3L1125.64 291.16L1125.92 291.01L1126.23 290.87L1126.59 290.73L1127.02 290.59L1127.59 290.44L1129 290.3L1129 290.3L1130.41 290.44L1130.98 290.59L1131.41 290.73L1131.77 290.87L1132.08 291.01L1132.36 291.16L1132.61 291.3L1132.83 291.44L1133.04 291.59L1133.24 291.73L1133.42 291.87L1133.59 292.01L1133.75 292.16L1133.9 292.3Z"/>
</g>
<path fill="none" stroke="#000" stroke-width="4" stroke-linejoin="round" stroke-linecap="round" d="M215.7 299.4L241.03 299.6L266.37 303.3L291.7 290.75L317.03 290.9L342.37 285.6L367.7 292.3L393.03 295L418.37 289.5L443.7 290L469.03 296.6L494.37 295.4L519.7 289.1L545.03 276.9L570.37 292.5L595.7 293.1L621.03 288.9L646.37 306.9L671.7 308.4L697.03 280L722.37 296L747.7 292L773.03 290L798.37 289.5L823.7 288.2L849.03 291.3L874.37 283L899.7 298L925.03 296.4L950.37 374.8L975.7 255.2L1001.03 284L1026.37 288.5L1051.7 290.8L1077.03 292.7L1102.37 292.1L1127.7 290.7"/>
<g fill="#333" font-size="32" text-anchor="middle">
<text x="600.5" y="44">OECD vs. Non-OECD - Annual Change in Oil Consumption (EIA</text>
<text x="600.5" y="82">Estimate)</text>
</g>
<text x="600" y="124.7" fill="#666" font-size="24" text-anchor="middle">MacroMicro.me | MacroMicro</text>
<g font-size="25.7">
<text x="194" y="185" fill="#666">Zoom</text>
<rect x="278" y="154" width="64" height="44" rx="4" fill="#50e3c2"/>
<g text-anchor="middle">
<text x="310" y="185" fill="#333">All</text>
<text x="374" y="185" fill="#ccc">6m</text>
<text x="437" y="185" fill="#555">YTD</text>
<text x="502" y="185" fill="#ccc">1y</text>
<text x="566" y="185" fill="#ccc">2y</text>
<text x="630" y="185" fill="#ccc">3y</text>
<text x="694" y="185" fill="#555">5y</text>
<text x="758" y="185" fill="#555">10y</text>
</g></g>
<g font-size="22" fill="#666" text-anchor="end">
<text x="164.1" y="233.5">10</text>
<text x="164.1" y="311.5">0</text>
<text x="164.1" y="389.5">-10</text>
<text x="164.1" y="467.5">-20</text>
</g>
<g font-size="24" fill="#666" text-anchor="middle">
<text transform="translate(82 341) rotate(-90)" x="0" y="0">Million barrels per</text>
<text transform="translate(112 341) rotate(-90)" x="0" y="0">day</text>
</g>
<g font-size="22" fill="#666" text-anchor="middle">
<text x="443.8" y="510">2000</text>
<text x="697.3" y="510">2010</text>
<text x="950.8" y="510">2020</text>
</g>
<g font-size="28" fill="#000">
<circle cx="366" cy="567.7" r="14" fill="#3bafda"/>
<text x="392" y="580.5">OECD</text>
<circle cx="529" cy="567.7" r="14" fill="#e9573f"/>
<text x="554.6" y="580.5">Non-OECD</text>
<path d="M745 572H772" stroke="#000" stroke-width="4" stroke-linecap="round"/>
<text x="785" y="580.5">Total</text>
</g>
</svg>
</body>
</html>
